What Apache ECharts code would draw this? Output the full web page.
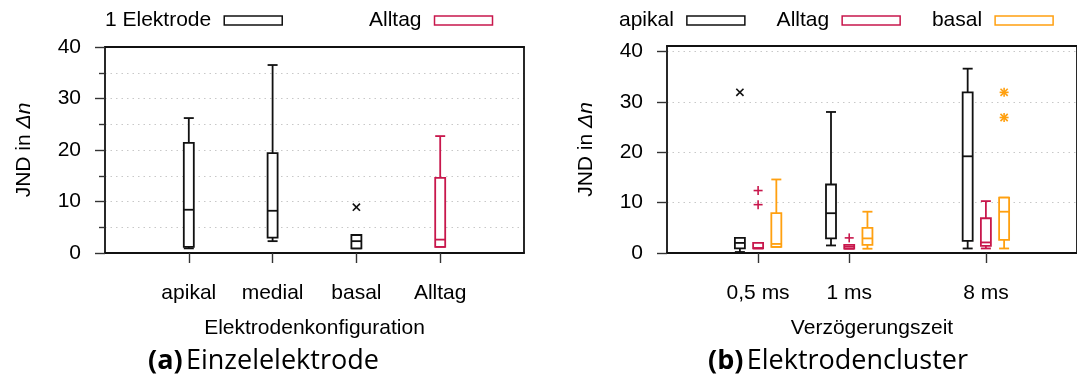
<!DOCTYPE html>
<html>
<head>
<meta charset="utf-8">
<script src="https://cdn.jsdelivr.net/npm/echarts@6/dist/echarts.min.js"></script>
<style>
  html, body { margin: 0; padding: 0; background: #fff; }
  #chart { width: 1077px; height: 390px; }
</style>
</head>
<body>
<div id="chart"></div>
<script>
// ---- (a) single electrode: boxplot stats [x, min, q1, median, q3, max]
const leftCategories = ['apikal', 'medial', 'basal', 'Alltag'];
const leftTickPos = [1, 2, 3, 4];
const singleElectrode = [
  [1, 0.9, 1.2, 8.4, 21.4, 26.2],
  [2, 2.3, 3.0, 8.2, 19.4, 36.5],
  [3, 0.9, 0.9, 2.3, 3.5, 3.5]
];
const singleOutliers = [[3, 8.9]];
const leftAlltag = [
  [4, 1.2, 1.2, 2.6, 14.6, 22.7]
];

// ---- (b) electrode cluster: delay groups at 1, 2, 3.5; series offset -0.2 / 0 / +0.2
const rightCategories = ['0,5 ms', '1 ms', '8 ms'];
const rightTickPos = [1, 2, 3.5];
const clusterApikal = [
  [0.8, 0.2, 0.9, 2.0, 3.0, 3.0],
  [1.8, 1.5, 2.9, 7.9, 13.6, 28.0],
  [3.3, 0.9, 2.4, 19.2, 31.9, 36.6]
];
const clusterApikalOutliers = [[0.8, 31.9]];
const clusterAlltag = [
  [1.0, 0.9, 0.9, 1.0, 2.0, 2.0],
  [2.0, 0.85, 0.85, 1.25, 1.6, 1.6],
  [3.5, 0.9, 1.4, 2.1, 6.9, 10.3]
];
const clusterAlltagOutliers = [[1.0, 12.4], [1.0, 9.6], [2.0, 3.0]];
const clusterBasal = [
  [1.2, 1.2, 1.2, 1.8, 7.9, 14.6],
  [2.2, 0.85, 1.6, 2.9, 5.0, 8.2],
  [3.7, 0.9, 2.6, 8.2, 11.0, 11.0]
];
const clusterBasalOutliers = [[3.7, 31.9], [3.7, 26.9]];

const yTicks = [0, 10, 20, 30, 40];

const BLACK = '#111111';
const CRIMSON = '#c8174c';
const ORANGE = '#ffa010';
const FONT = 'Liberation Sans';
const FS = 21;

const chart = echarts.init(document.getElementById('chart'), null, { renderer: 'canvas' });

// box with whiskers and caps, half width in pixels
function boxRenderer(color) {
  return function (params, api) {
    const x = api.value(0);
    const pMin = api.coord([x, api.value(1)]);
    const pQ1 = api.coord([x, api.value(2)]);
    const pMed = api.coord([x, api.value(3)]);
    const pQ3 = api.coord([x, api.value(4)]);
    const pMax = api.coord([x, api.value(5)]);
    const cx = pMin[0];
    const hw = 5;
    const style = { stroke: color, lineWidth: 1.8, fill: null };
    const line = (x1, y1, x2, y2) => ({ type: 'line', shape: { x1, y1, x2, y2 }, style });
    return {
      type: 'group',
      children: [
        line(cx, pMin[1], cx, pQ1[1]),
        line(cx - hw, pMin[1], cx + hw, pMin[1]),
        line(cx, pQ3[1], cx, pMax[1]),
        line(cx - hw, pMax[1], cx + hw, pMax[1]),
        { type: 'rect', shape: { x: cx - hw, y: pQ3[1], width: 2 * hw, height: pQ1[1] - pQ3[1] },
          style: { stroke: color, lineWidth: 1.8, fill: '#fff' } },
        line(cx - hw, pMed[1], cx + hw, pMed[1])
      ]
    };
  };
}

// outlier glyphs: 'x', '+', '*'
function markRenderer(color, kind) {
  return function (params, api) {
    const p = api.coord([api.value(0), api.value(1)]);
    const r = 4.5;
    const style = { stroke: color, lineWidth: 1.6 };
    const seg = (x1, y1, x2, y2) => ({ type: 'line', shape: { x1, y1, x2, y2 }, style });
    const plus = [seg(p[0] - r, p[1], p[0] + r, p[1]), seg(p[0], p[1] - r, p[0], p[1] + r)];
    const cross = [seg(p[0] - r * 0.8, p[1] - r * 0.8, p[0] + r * 0.8, p[1] + r * 0.8),
                   seg(p[0] - r * 0.8, p[1] + r * 0.8, p[0] + r * 0.8, p[1] - r * 0.8)];
    const children = kind === '+' ? plus : kind === 'x' ? cross : plus.concat(cross);
    return { type: 'group', children };
  };
}

function boxSeries(name, data, color, gridIdx) {
  return {
    name, type: 'custom', xAxisIndex: gridIdx, yAxisIndex: gridIdx,
    renderItem: boxRenderer(color), data, z: 5,
    itemStyle: { color: '#fff', borderColor: color },
    encode: { x: 0, y: [1, 2, 3, 4, 5] }
  };
}
function markSeries(name, data, color, kind, gridIdx) {
  return {
    name, type: 'custom', xAxisIndex: gridIdx, yAxisIndex: gridIdx,
    renderItem: markRenderer(color, kind), data, z: 6,
    encode: { x: 0, y: 1 }
  };
}

const axisText = { color: '#000', fontFamily: FONT, fontSize: FS };
const gridLine = { show: true, lineStyle: { color: '#c8c8c8', type: [1.5, 4], width: 1 } };

function xAxis(gridIndex, max, ticks, labels, name) {
  return {
    type: 'value', gridIndex, min: 0, max,
    name, nameLocation: 'middle', nameGap: 65,
    nameTextStyle: { color: '#000', fontFamily: FONT, fontSize: FS },
    axisLine: { show: true, onZero: false, lineStyle: { color: BLACK, width: 1.8 } },
    axisTick: { show: true, length: 10, customValues: ticks, lineStyle: { color: '#333', width: 1.4 } },
    axisLabel: Object.assign({ customValues: ticks, margin: 30,
      formatter: v => labels[ticks.indexOf(v)] || '' }, axisText),
    splitLine: { show: false }
  };
}
function yAxis(gridIndex, max, minor) {
  return {
    type: 'value', gridIndex, min: 0, max, interval: 10,
    name: '{a|JND in }{b|Δn}', nameLocation: 'middle', nameGap: 70,
    nameTextStyle: { rich: {
      a: { color: '#000', fontFamily: FONT, fontSize: FS },
      b: { color: '#000', fontFamily: FONT, fontSize: FS, fontStyle: 'italic' } } },
    axisLine: { show: true, onZero: false, lineStyle: { color: BLACK, width: 1.8 } },
    axisTick: { show: true, length: 10, customValues: yTicks, lineStyle: { color: '#333', width: 1.4 } },
    minorTick: { show: minor, splitNumber: 2, length: 6, lineStyle: { color: '#333', width: 1.4 } },
    minorSplitLine: { show: minor, lineStyle: { color: '#c8c8c8', type: [1.5, 4], width: 1 } },
    axisLabel: Object.assign({ customValues: yTicks, margin: 24 }, axisText),
    splitLine: gridLine
  };
}
// frame edges (top / right) drawn as bare axis lines
function frameX(gridIndex, max) {
  return { type: 'value', gridIndex, min: 0, max, position: 'top',
    axisLine: { show: true, onZero: false, lineStyle: { color: BLACK, width: 2 } },
    axisTick: { show: false }, axisLabel: { show: false }, splitLine: { show: false } };
}
function frameY(gridIndex, max) {
  return { type: 'value', gridIndex, min: 0, max, position: 'right',
    axisLine: { show: true, onZero: false, lineStyle: { color: BLACK, width: 1.8 } },
    axisTick: { show: false }, axisLabel: { show: false }, splitLine: { show: false } };
}

const legendText = { color: '#000', fontFamily: FONT, fontSize: FS, padding: [0, 8, 0, 0] };
const legendIcon = c => ({ color: '#fff', borderColor: c, borderWidth: 1.5 });
const captionRich = {
  b: { fontFamily: 'Open Sans', fontWeight: 'bold', fontSize: 27, fill: '#000' },
  n: { fontFamily: 'Open Sans', fontSize: 27, fill: '#000' }
};

const option = {
  backgroundColor: '#fff',
  animation: false,
  grid: [
    { left: 105, top: 47, width: 419, height: 206 },
    { left: 667, top: 46, width: 418.5, height: 207 }
  ],
  xAxis: [
    xAxis(0, 5, leftTickPos, leftCategories, 'Elektrodenkonfiguration'),
    xAxis(1, 4.5, rightTickPos, rightCategories, 'Verzögerungszeit'),
    frameX(0, 5),
    frameX(1, 4.5)
  ],
  yAxis: [yAxis(0, 40, true), yAxis(1, 41.1, false), frameY(0, 40), frameY(1, 41.1)],
  legend: [
    { left: 100, top: 5, align: 'right', itemWidth: 58, itemHeight: 9, itemGap: 86, icon: 'rect',
      textStyle: legendText, selectedMode: false,
      data: [{ name: '1 Elektrode', itemStyle: legendIcon(BLACK) },
             { name: 'Alltag', itemStyle: legendIcon(CRIMSON) }] },
    { left: 614, top: 5, align: 'right', itemWidth: 58, itemHeight: 9, itemGap: 31, icon: 'rect',
      textStyle: legendText, selectedMode: false,
      data: [{ name: 'apikal', itemStyle: legendIcon(BLACK) },
             { name: 'Alltag', itemStyle: legendIcon(CRIMSON) },
             { name: 'basal', itemStyle: legendIcon(ORANGE) }] }
  ],
  graphic: [
    { type: 'text', left: 148, top: 348, style: { text: '{b|(a)} {n|Einzelelektrode}', rich: captionRich } },
    { type: 'text', left: 708, top: 348, style: { text: '{b|(b)} {n|Elektrodencluster}', rich: captionRich } }
  ],
  series: [
    boxSeries('1 Elektrode', singleElectrode, BLACK, 0),
    markSeries('1 Elektrode', singleOutliers, BLACK, 'x', 0),
    boxSeries('Alltag', leftAlltag, CRIMSON, 0),
    boxSeries('apikal', clusterApikal, BLACK, 1),
    markSeries('apikal', clusterApikalOutliers, BLACK, 'x', 1),
    boxSeries('Alltag', clusterAlltag, CRIMSON, 1),
    markSeries('Alltag', clusterAlltagOutliers, CRIMSON, '+', 1),
    boxSeries('basal', clusterBasal, ORANGE, 1),
    markSeries('basal', clusterBasalOutliers, ORANGE, '*', 1)
  ]
};
chart.setOption(option);
</script>
</body>
</html>
